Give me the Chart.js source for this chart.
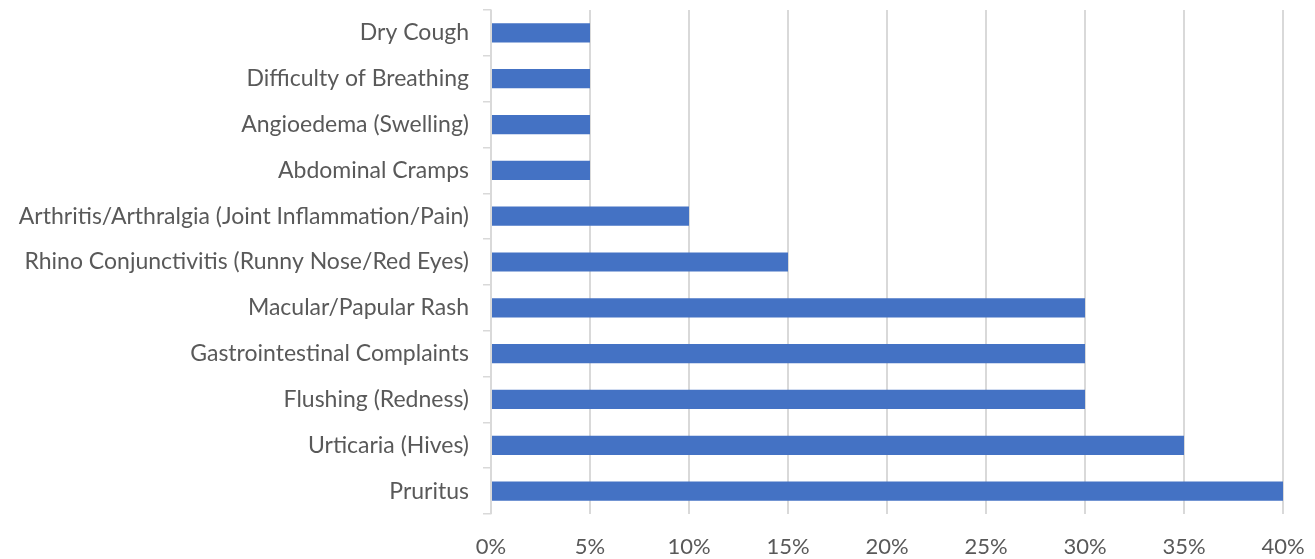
<!DOCTYPE html>
<html>
<head>
<meta charset="utf-8">
<script src="https://cdn.jsdelivr.net/npm/chart.js@4/dist/chart.umd.min.js"></script>
<style>
  html, body { margin: 0; padding: 0; background: #fff; }
  #wrap { width: 1315px; height: 559px; }
</style>
</head>
<body>
<div id="wrap"><canvas id="chart0" width="1315" height="559"></canvas></div>
<script>
// symptoms, top to bottom
var symptoms = ["Dry Cough", "Difficulty of Breathing", "Angioedema (Swelling)", "Abdominal Cramps",
    "Arthritis/Arthralgia (Joint Inflammation/Pain)", "Rhino Conjunctivitis (Runny Nose/Red Eyes)",
    "Macular/Papular Rash", "Gastrointestinal Complaints", "Flushing (Redness)", "Urticaria (Hives)", "Pruritus"];
var percents = [5, 5, 5, 5, 10, 15, 30, 30, 30, 35, 40];
var tickLabels = ["0%", "5%", "10%", "15%", "20%", "25%", "30%", "35%", "40%"];

var ctx = document.getElementById('chart0').getContext('2d');

var chart = new Chart(ctx, {
    type: 'bar',
    data: {
        labels: symptoms,
        datasets: [{
            data: percents,
            backgroundColor: '#4472C4',
            barPercentage: 0.42,
            categoryPercentage: 1
        }]
    },
    options: {
        indexAxis: 'y',
        responsive: false,
        animation: false,
        layout: { padding: { top: 10, right: 32, bottom: 0, left: 0 } },
        plugins: { legend: { display: false }, tooltip: { enabled: false } },
        scales: {
            x: {
                min: 0,
                max: 40,
                afterFit: function (scale) { scale.height = 45; scale.paddingLeft = 0; scale.paddingRight = 0; },
                ticks: {
                    stepSize: 5,
                    color: '#595959',
                    font: { family: 'Lato', size: 22 },
                    padding: 20,
                    callback: function (v, i) { return tickLabels[i]; }
                },
                grid: { color: '#d9d9d9', lineWidth: 2, drawTicks: false },
                border: { display: false }
            },
            y: {
                afterFit: function (scale) { scale.width = 491; scale.paddingTop = 0; scale.paddingBottom = 0; },
                ticks: {
                    color: '#595959',
                    font: { family: 'Lato', size: 23 },
                    padding: 14
                },
                grid: { offset: true, drawOnChartArea: false, tickLength: 8, color: '#d9d9d9', lineWidth: 1.5 },
                border: { color: '#d9d9d9', width: 1.5 }
            }
        }
    }
});
</script>
</body>
</html>
